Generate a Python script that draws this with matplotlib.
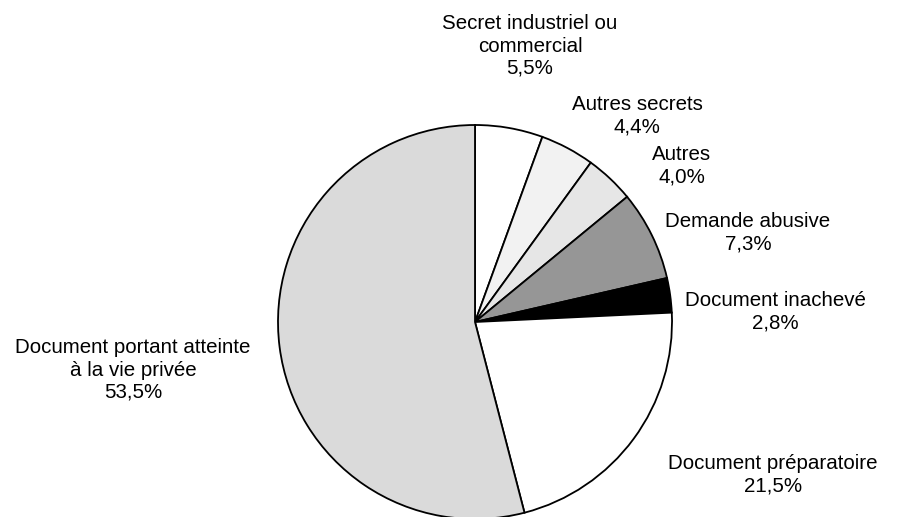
import matplotlib.pyplot as plt

plt.rcParams['font.family'] = ['Liberation Sans', 'DejaVu Sans']

labels = ["Secret industriel ou\ncommercial", "Autres secrets", "Autres",
          "Demande abusive", "Document inachevé", "Document préparatoire",
          "Document portant atteinte\nà la vie privée"]
values = [5.5, 4.4, 4.0, 7.3, 2.8, 21.5, 53.5]
colors = ["#ffffff", "#f2f2f2", "#e6e6e6", "#969696", "#000000", "#ffffff", "#dadada"]

# label centres in pixels (x from left, y from top)
label_pos = [(530, 46), (637, 116), (682, 166), (748, 233),
             (775, 312), (773, 475), (133, 370)]

W, H = 900, 517
cx, cy, r = 475, 322, 197

fig = plt.figure(figsize=(9, 5.17), dpi=100)
ax = fig.add_axes([0, 0, 1, 1])
ax.pie(values, colors=colors, startangle=90, counterclock=False,
       radius=1, wedgeprops=dict(edgecolor='black', linewidth=1.3))
ax.set_aspect('auto')
ax.set_xlim(-cx / r, (W - cx) / r)
ax.set_ylim(-(H - cy) / r, cy / r)
ax.axis('off')

for lab, v, (px, py) in zip(labels, values, label_pos):
    txt = lab + "\n" + f"{v:.1f}".replace(".", ",") + "%"
    fig.text(px / W, 1 - py / H, txt, ha='center', va='center',
             fontsize=14.8, linespacing=1.22, multialignment='center')

fig.savefig("out.png", dpi=100)
